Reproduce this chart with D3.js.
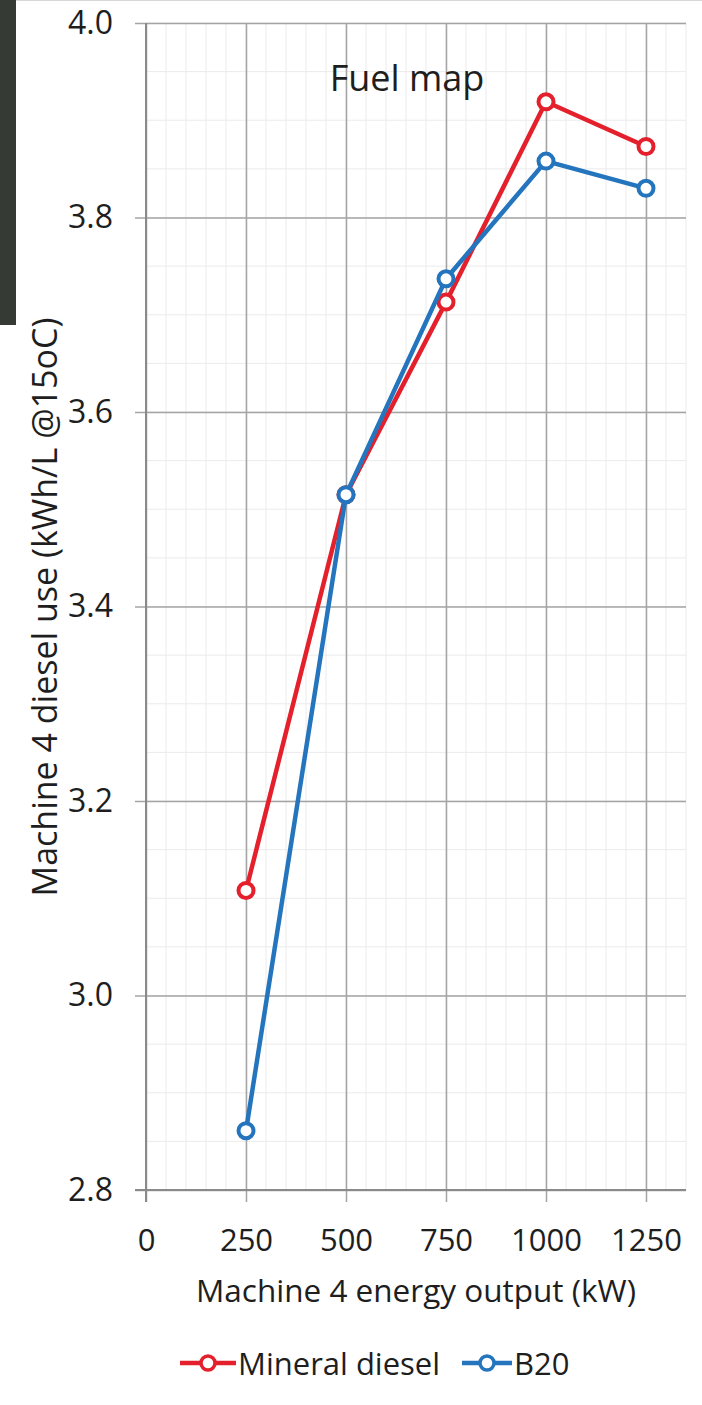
<!DOCTYPE html>
<html><head><meta charset="utf-8">
<script src="https://cdn.jsdelivr.net/npm/d3@7"></script>
<style>
html,body{margin:0;padding:0;background:#fff;}
svg{display:block;}
text{font-family:"Open Sans",sans-serif;fill:#1e1e1e;}
</style></head>
<body>
<svg id="chart" width="702" height="1405"></svg>
<script>
const categories = [250, 500, 750, 1000, 1250];
const mineralDiesel = [3.108, 3.515, 3.713, 3.919, 3.873];
const b20 = [2.861, 3.515, 3.737, 3.858, 3.830];
const xTicks = [0, 250, 500, 750, 1000, 1250];
const yTicks = [2.8, 3.0, 3.2, 3.4, 3.6, 3.8, 4.0];
const seriesNames = ["Mineral diesel", "B20"];
const seriesColors = ["#e3202b", "#2475bd"];

const svg = d3.select("#chart");
const L = 146, R = 686, T = 23, B = 1190;
const x = d3.scaleLinear().domain([0, 1350]).range([L, R]);
const y = d3.scaleLinear().domain([2.8, 4.0]).range([B, T]);

// left dark bar and top line
svg.append("rect").attr("x", 0).attr("y", 0).attr("width", 16).attr("height", 325).attr("fill", "#363a35");
svg.append("line").attr("x1", 16).attr("x2", 702).attr("y1", 0.5).attr("y2", 0.5).attr("stroke", "#d8d8d8");

// minor grid
const g = svg.append("g");
g.selectAll(".vminor").data(d3.range(50, 1351, 50)).enter().append("line")
  .attr("x1", d => x(d)).attr("x2", d => x(d)).attr("y1", T).attr("y2", B)
  .attr("stroke", "#ebebeb").attr("stroke-width", 1);
g.selectAll(".hminor").data(d3.range(0, 25).map(i => 2.8 + i * 0.05)).enter().append("line")
  .attr("x1", L).attr("x2", R).attr("y1", d => y(d)).attr("y2", d => y(d))
  .attr("stroke", "#ebebeb").attr("stroke-width", 1);

// major grid via axes
const yAxis = d3.axisLeft(y).tickValues(yTicks).tickFormat(d3.format(".1f"))
  .tickSize(-(R - L)).tickPadding(33);
const ya = svg.append("g").attr("transform", `translate(${L},0)`).call(yAxis);
ya.select(".domain").remove();
ya.selectAll(".tick line").attr("x1", -11).attr("stroke", "#a4a4a4").attr("stroke-width", 1.5);
ya.selectAll(".tick text").attr("font-size", 32).attr("fill", "#1e1e1e").style("font-family", "Open Sans");

const xAxis = d3.axisBottom(x).tickValues(xTicks).tickFormat(d3.format("d"))
  .tickSize(-(B - T)).tickPadding(39);
const xa = svg.append("g").attr("transform", `translate(0,${B})`).call(xAxis);
xa.select(".domain").remove();
xa.selectAll(".tick line").attr("y1", 12).attr("stroke", "#a4a4a4").attr("stroke-width", 1.5);
xa.selectAll(".tick text").attr("font-size", 31).attr("fill", "#1e1e1e").style("font-family", "Open Sans");

// axis lines
svg.append("line").attr("x1", L).attr("x2", L).attr("y1", T).attr("y2", B + 12).attr("stroke", "#8a8a8a").attr("stroke-width", 2);
svg.append("line").attr("x1", L - 11).attr("x2", R).attr("y1", B).attr("y2", B).attr("stroke", "#8a8a8a").attr("stroke-width", 2);

// series
const series = [mineralDiesel, b20];
const line = d3.line().x((d, i) => x(categories[i])).y(d => y(d));
series.forEach((vals, si) => {
  svg.append("path").datum(vals).attr("d", line).attr("fill", "none")
    .attr("stroke", seriesColors[si]).attr("stroke-width", 4.5).attr("stroke-linejoin", "round");
  svg.selectAll(".m" + si).data(vals).enter().append("circle")
    .attr("cx", (d, i) => x(categories[i])).attr("cy", d => y(d)).attr("r", 7.5)
    .attr("fill", "#fff").attr("stroke", seriesColors[si]).attr("stroke-width", 4);
});

// title
svg.append("text").attr("x", 407).attr("y", 91).attr("text-anchor", "middle").attr("font-size", 36).text("Fuel map");

// axis titles
svg.append("text").attr("x", 416).attr("y", 1302).attr("text-anchor", "middle").attr("font-size", 31.5)
  .text("Machine 4 energy output (kW)");
svg.append("text").attr("transform", "translate(57,607) rotate(-90)").attr("text-anchor", "middle").attr("font-size", 34)
  .text("Machine 4 diesel use (kWh/L @15oC)");

// legend
const leg = [{x1: 180, x2: 236, tx: 238}, {x1: 462, x2: 512, tx: 514}];
leg.forEach((p, i) => {
  svg.append("line").attr("x1", p.x1).attr("x2", p.x2).attr("y1", 1363).attr("y2", 1363)
    .attr("stroke", seriesColors[i]).attr("stroke-width", 4.5);
  svg.append("circle").attr("cx", (p.x1 + p.x2) / 2).attr("cy", 1363).attr("r", 7)
    .attr("fill", "#fff").attr("stroke", seriesColors[i]).attr("stroke-width", 3.5);
  svg.append("text").attr("x", p.tx).attr("y", 1375).attr("font-size", 31).text(seriesNames[i]);
});
</script>
</body></html>
